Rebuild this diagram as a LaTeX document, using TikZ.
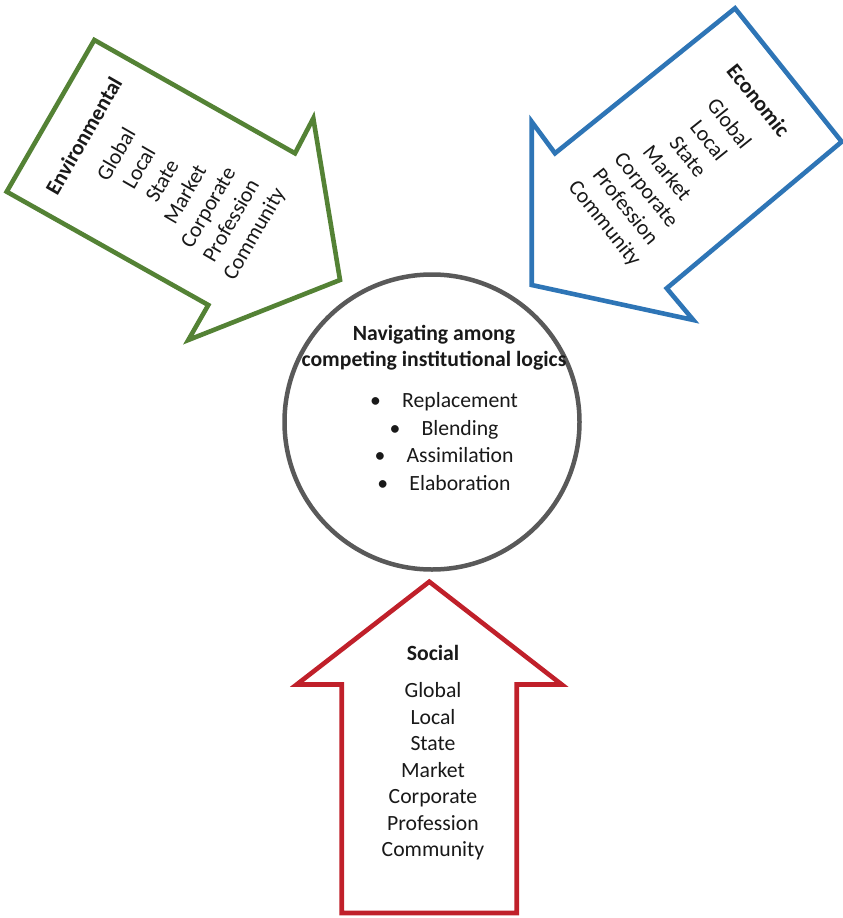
\documentclass[tikz,border=0pt]{standalone}
\usepackage{fontspec}
\setmainfont{Carlito}
\definecolor{envgreen}{RGB}{84,130,53}
\definecolor{ecoblue}{RGB}{46,117,182}
\definecolor{socred}{RGB}{192,32,42}
\definecolor{hubgray}{RGB}{89,89,89}
\definecolor{txtdark}{RGB}{25,25,25}
\tikzset{
  logicarrow/.style={line width=4.6pt,line join=miter,fill=white},
  logictext/.style={align=center,text=txtdark,inner sep=0pt,
    font=\fontsize{21.7}{26.5}\selectfont}
}
\begin{document}
\begin{tikzpicture}[x=1pt,y=-1pt]
  \useasboundingbox (0,0) rectangle (843,918);
  % three logic arrows
  \draw[logicarrow,draw=envgreen] (94.3,40) -- (295,153.3) -- (313.3,118.3) -- (340,280)
    -- (188.3,340) -- (208.3,305) -- (6.7,191.7) -- cycle;
  \draw[logicarrow,draw=ecoblue] (735,8.3) -- (841.7,141.7) -- (666.7,288.3) -- (693.3,320)
    -- (531.7,285) -- (531.7,121.7) -- (555,153.3) -- cycle;
  \draw[logicarrow,draw=socred] (429.3,581.7) -- (561.7,684.5) -- (516.7,684.5) -- (516.7,913)
    -- (341.7,913) -- (341.7,684.5) -- (296.7,684.5) -- cycle;
  \node[logictext,rotate=60] (envlist) at (170,185.5)
    {\textbf{Environmental}\\[10.5pt] Global\\ Local\\ State\\ Market\\ Corporate\\ Profession\\ Community};
  \node[logictext,rotate=-51.3] (ecolist) at (680.8,162.5)
    {\textbf{Economic}\\[10.5pt] Global\\ Local\\ State\\ Market\\ Corporate\\ Profession\\ Community};
  \node[logictext] (soclist) at (433,753)
    {\textbf{Social}\\[10.5pt] Global\\ Local\\ State\\ Market\\ Corporate\\ Profession\\ Community};
  % central circle
  \node[circle,draw=hubgray,line width=4.5pt,minimum size=295pt] (hub) at (432,422) {};
  \node[logictext,font=\fontsize{21.7}{26}\selectfont\bfseries] (hubtitle) at (434,348)
    {Navigating among\\ competing institutional logics};
  \foreach \w [count=\i] in {Replacement,Blending,Assimilation,Elaboration}
    \node[logictext,anchor=base] (item\i) at (444,{380+27.5*\i})
      {\makebox[32pt][l]{\textbullet}\w};
\end{tikzpicture}
\end{document}
